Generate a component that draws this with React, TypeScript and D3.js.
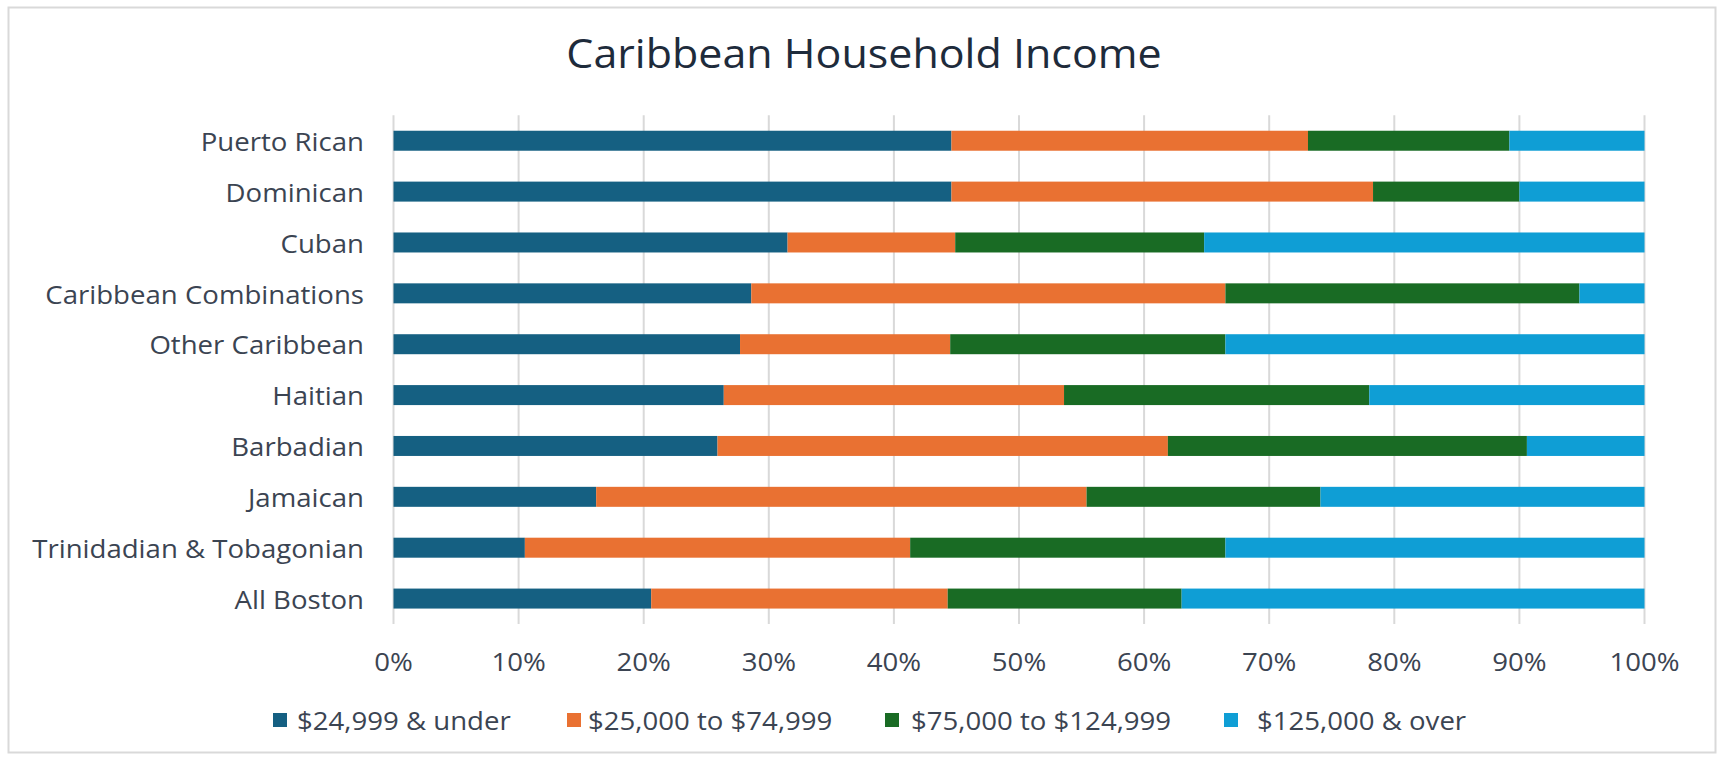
import React from "react";
import * as d3 from "d3";

const categories = [
  "Puerto Rican",
  "Dominican",
  "Cuban",
  "Caribbean Combinations",
  "Other Caribbean",
  "Haitian",
  "Barbadian",
  "Jamaican",
  "Trinidadian & Tobagonian",
  "All Boston",
];

const seriesNames = [
  "$24,999 & under",
  "$25,000 to $74,999",
  "$75,000 to $124,999",
  "$125,000 & over",
];

const under25k = [44.6, 44.6, 31.5, 28.6, 27.7, 26.4, 25.9, 16.2, 10.5, 20.6];
const from25to75k = [28.5, 33.7, 13.4, 37.9, 16.8, 27.2, 36.0, 39.2, 30.8, 23.7];
const from75to125k = [16.1, 11.7, 19.9, 28.3, 22.0, 24.4, 28.7, 18.7, 25.2, 18.7];
const over125k = [10.8, 10.0, 35.2, 5.2, 33.5, 22.0, 9.4, 25.9, 33.5, 37.0];

const xTicks = [0, 10, 20, 30, 40, 50, 60, 70, 80, 90, 100];

const colors = ["#156082", "#E97132", "#196B24", "#0F9ED5"];

const W = 1717;
const H = 759;
const FONT = "'Open Sans', 'Noto Sans', sans-serif";

export default function App() {
  const plotLeft = 393.5;
  const plotRight = 1644.5;
  const plotTop = 115.3;
  const plotBottom = 624;

  const x = d3.scaleLinear().domain([0, 100]).range([plotLeft, plotRight]);
  const y = d3
    .scaleBand<string>()
    .domain(categories)
    .range([plotTop, plotBottom])
    .paddingInner(0.607)
    .paddingOuter(0.3035);

  const rows = categories.map((c, i) => ({
    cat: c,
    s0: under25k[i],
    s1: from25to75k[i],
    s2: from75to125k[i],
    s3: over125k[i],
  }));
  const keys = ["s0", "s1", "s2", "s3"];
  const stacked = d3.stack<any>().keys(keys)(rows);

  const labelColor = "#3b4452";
  const SX = 1.062;

  const legendItems = [
    { sx: 273, tx: 297, label: seriesNames[0] },
    { sx: 567, tx: 588, label: seriesNames[1] },
    { sx: 885, tx: 911, label: seriesNames[2] },
    { sx: 1224, tx: 1257, label: seriesNames[3] },
  ];

  return (
    <svg
      width={W}
      height={H}
      style={{ position: "fixed", left: 0, top: 0, background: "#fff" }}
      fontFamily={FONT}
    >
      <rect x={0} y={0} width={W} height={H} fill="#fff" />
      <rect
        x={8.5}
        y={7.5}
        width={W - 10}
        height={H - 14}
        fill="#fff"
        stroke="#d9d9d9"
        strokeWidth={2}
      />
      <text
        transform={`translate(${(566 + 1162) / 2},53) scale(1.075,1)`}
        textAnchor="middle"
        dominantBaseline="central"
        fontSize={40}
        fill="#1e2b3b"
      >
        Caribbean Household Income
      </text>

      {xTicks.map((t) => (
        <line
          key={"g" + t}
          x1={x(t)}
          x2={x(t)}
          y1={plotTop}
          y2={plotBottom}
          stroke="#d9d9d9"
          strokeWidth={2}
        />
      ))}

      {stacked.map((layer, li) => (
        <g key={li} fill={colors[li]}>
          {layer.map((d: any, i: number) => (
            <rect
              key={i}
              x={x(d[0])}
              width={Math.max(0, x(d[1]) - x(d[0]))}
              y={y(categories[i])}
              height={y.bandwidth()}
            />
          ))}
        </g>
      ))}

      {categories.map((c) => (
        <text
          key={c}
          transform={`translate(364,${(y(c) as number) + y.bandwidth() / 2}) scale(${SX},1)`}
          textAnchor="end"
          dominantBaseline="central"
          fontSize={26}
          fill={labelColor}
        >
          {c}
        </text>
      ))}

      {xTicks.map((t) => (
        <text
          key={"t" + t}
          transform={`translate(${x(t)},661) scale(${SX},1)`}
          textAnchor="middle"
          dominantBaseline="central"
          fontSize={26}
          fill={labelColor}
        >
          {t + "%"}
        </text>
      ))}

      {legendItems.map((it, i) => (
        <g key={i}>
          <rect x={it.sx} y={713} width={14} height={14} fill={colors[i]} />
          <text
            transform={`translate(${it.tx},720) scale(${SX},1)`}
            dominantBaseline="central"
            fontSize={26}
            fill={labelColor}
          >
            {it.label}
          </text>
        </g>
      ))}
    </svg>
  );
}
